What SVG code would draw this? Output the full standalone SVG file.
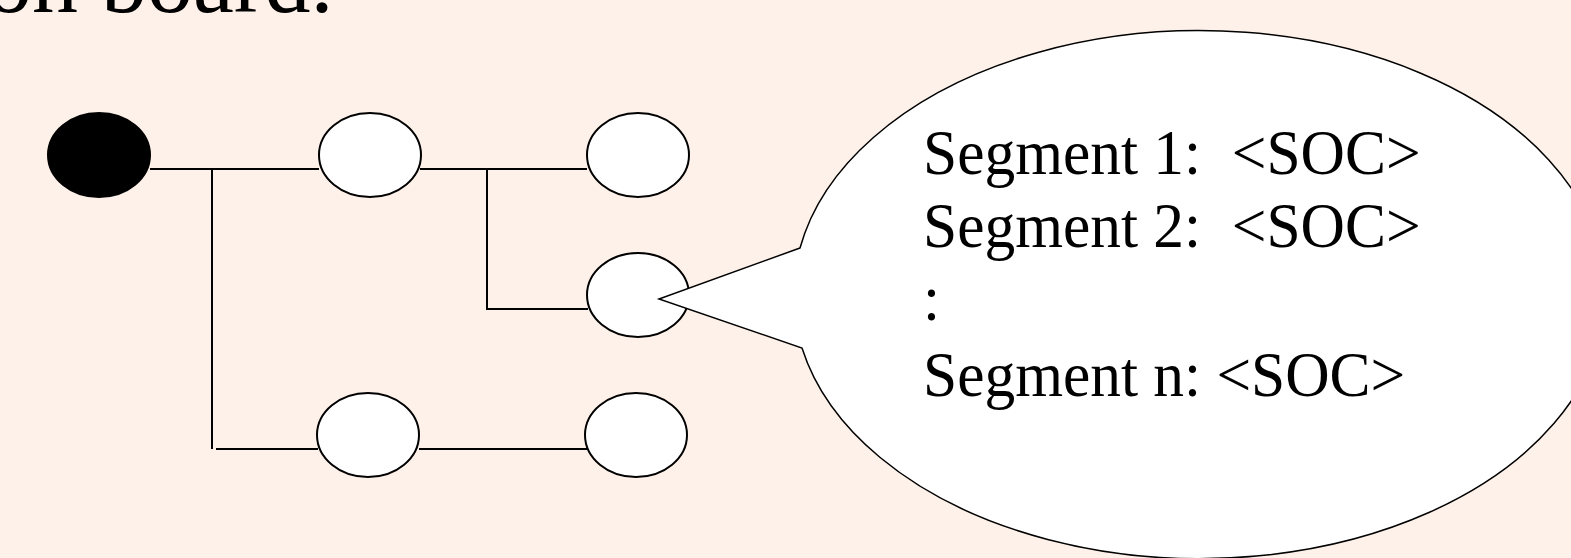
<svg xmlns="http://www.w3.org/2000/svg" width="1571" height="558" viewBox="0 0 1571 558">
<style>
.node{fill:#fff;stroke:#000;stroke-width:2}
.root{fill:#000;stroke:#000;stroke-width:2}
.conn line{stroke:#000;stroke-width:2}
.t{font-family:"Liberation Serif","Times New Roman",serif;fill:#000}
</style>
<rect width="1571" height="558" fill="#FEF1E9"/>
<text class="t" x="-14" y="12" font-size="92">on board.</text>
<g id="connectors" class="conn">
<line x1="150" y1="169" x2="319" y2="169"/>
<line x1="212" y1="169" x2="212" y2="449"/>
<line x1="216" y1="449" x2="318" y2="449"/>
<line x1="420" y1="169" x2="587" y2="169"/>
<line x1="487" y1="169" x2="487" y2="309"/>
<line x1="486" y1="309" x2="588" y2="309"/>
<line x1="419" y1="449" x2="587" y2="449"/>
</g>
<g id="root"><ellipse class="root" cx="99" cy="155" rx="51" ry="42"/></g>
<g id="n1"><ellipse class="node" cx="370" cy="155" rx="51" ry="42"/></g>
<g id="n2"><ellipse class="node" cx="638" cy="155" rx="51" ry="42"/></g>
<g id="n3"><ellipse class="node" cx="638" cy="295" rx="51" ry="42"/></g>
<g id="n4"><ellipse class="node" cx="368" cy="435" rx="51" ry="42"/></g>
<g id="n5"><ellipse class="node" cx="636" cy="435" rx="51" ry="42"/></g>
<g id="callout">
<path d="M800 248 L659 299 L802 348 A406 264 0 1 0 800 248 Z" fill="#fff" stroke="#000" stroke-width="1.5"/>
<g transform="matrix(0.96 0 0 1 36.92 0)">
<text class="t" x="923" y="174" font-size="64" xml:space="preserve">Segment 1:  &lt;SOC&gt;</text>
<text class="t" x="923" y="247" font-size="64" xml:space="preserve">Segment 2:  &lt;SOC&gt;</text>
<text class="t" x="923" y="320" font-size="64">:</text>
<text class="t" x="923" y="396" font-size="64">Segment n: &lt;SOC&gt;</text>
</g>
</g>
</svg>
